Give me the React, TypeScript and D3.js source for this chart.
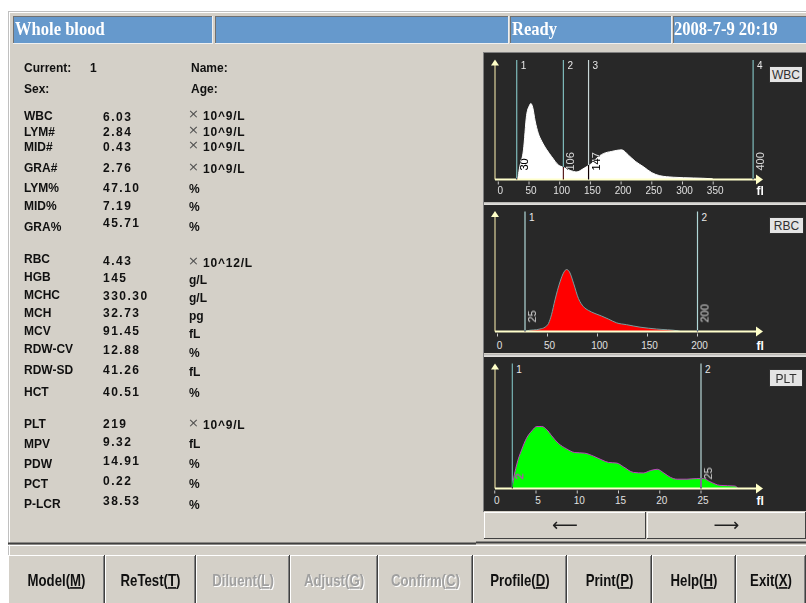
import React from "react";
import * as d3 from "d3";

// ---------------- data ----------------
const headerTexts = ["Whole blood", "", "Ready", "2008-7-9 20:19"];

const patientLeftLabels = ["Current:", "Sex:"];
const patientLeftValues = ["1", ""];
const patientRightLabels = ["Name:", "Age:"];

const wbcParams = ["WBC", "LYM#", "MID#", "GRA#", "LYM%", "MID%", "GRA%"];
const wbcValues = ["6.03", "2.84", "0.43", "2.76", "47.10", "7.19", "45.71"];
const wbcUnits = ["×10^9/L", "×10^9/L", "×10^9/L", "×10^9/L", "%", "%", "%"];

const rbcParams = ["RBC", "HGB", "MCHC", "MCH", "MCV", "RDW-CV", "RDW-SD", "HCT"];
const rbcValues = ["4.43", "145", "330.30", "32.73", "91.45", "12.88", "41.26", "40.51"];
const rbcUnits = ["×10^12/L", "g/L", "g/L", "pg", "fL", "%", "fL", "%"];

const pltParams = ["PLT", "MPV", "PDW", "PCT", "P-LCR"];
const pltValues = ["219", "9.32", "14.91", "0.22", "38.53"];
const pltUnits = ["×10^9/L", "fL", "%", "%", "%"];

// WBC histogram (fL, relative count)
const wbcFl = [30, 31, 35, 41, 46, 50.5, 53, 56, 60, 65, 71, 79, 87, 98, 106, 117, 128, 136, 144, 152, 160, 171, 185, 201, 212, 223, 236, 250, 263, 285, 318, 348, 350];
const wbcCount = [0, 1, 17, 39, 84, 97, 100, 95, 77, 61, 50, 39, 30, 19, 16, 12, 10, 13, 17, 21, 28, 34, 37, 39, 32, 24, 17, 9, 5, 3, 2, 1, 0];
const wbcTicks = [0, 50, 100, 150, 200, 250, 300, 350];
const wbcMarkerPos = [30, 106, 147, 415];
const wbcMarkerText = ["30", "106", "147", "400"];

// RBC histogram
const rbcFl = [27, 29, 42.5, 47.5, 51, 54, 57.5, 62.5, 66.5, 69, 72, 76, 81, 86, 91, 97.5, 104, 111, 119, 129, 142.5, 159, 181, 183];
const rbcCount = [0, 1, 4, 7, 13, 27, 51, 80, 96, 100, 96, 78, 53, 40, 34, 29, 25, 20, 14, 11, 7, 4, 1, 0];
const rbcTicks = [0, 50, 100, 150, 200];
const rbcMarkerPos = [27.5, 200];
const rbcMarkerText = ["25", "200"];

// PLT histogram
const pltFl = [2.1, 2.25, 2.65, 3.25, 3.85, 4.5, 5.1, 5.7, 6.3, 6.9, 7.7, 8.7, 9.7, 10.9, 12, 13, 13.8, 14.8, 15.6, 16.8, 18, 18.9, 19.7, 20.5, 21.3, 22.1, 23.3, 24.5, 25.3, 26.1, 27.3, 29.1, 29.5];
const pltCount = [0, 13, 38, 62, 81, 93, 100, 100, 95, 85, 73, 64, 58, 57, 52, 46, 42, 41, 35, 26, 25, 29, 31, 25, 18, 15, 15, 16, 16, 11, 5, 4, 0];
const pltTicks = [0, 5, 10, 15, 20, 25];
const pltMarkerPos = [2.13, 25];
const pltMarkerText = ["2", "25"];

const buttonNames = ["Model", "ReTest", "Diluent", "Adjust", "Confirm", "Profile", "Print", "Help", "Exit"];
const buttonKeys = ["M", "T", "L", "G", "C", "D", "P", "H", "X"];
const buttonEnabled = [true, true, false, false, false, true, true, true, true];

// ---------------- layout ----------------
const BG = "#d4d0c8";
const headerEdges = [[13, 212], [215, 508], [510, 671], [673, 806]];
const headerTextX = [15, 0, 512, 674];
const buttonEdges = [8, 105, 196, 290, 378, 473, 567, 652, 736, 806];

const wbcRowY = { label: [120, 135.5, 151, 172, 192, 209.5, 230.5], value: [120.5, 136, 151, 172, 191.5, 209.5, 226.5], unit: [119, 134.5, 150, 171.5, 193, 211, 231] };
const rbcRowY = { label: [263, 281, 299, 317, 335, 353, 374, 396], value: [265, 282, 300, 317, 335, 354, 374, 396], unit: [266, 284, 302, 320, 338, 357, 376, 397] };
const pltRowY = { label: [428, 448, 468, 488, 508], value: [428, 446, 465, 485, 505], unit: [428, 448, 468, 488, 509] };

type PanelCfg = {
  name: string;
  top: number; bottom: number;
  axisY: number; arrowTop: number; lineTop: number;
  domain: [number, number]; range: [number, number];
  peakH: number; tickLabelY: number;
  fl: number[]; count: number[]; ticks: number[];
  markerPos: number[]; markerText: string[]; markerColors: string[];
  fill: string; stroke: string;
  btn: [number, number, number, number];
};

const panels: PanelCfg[] = [
  {
    name: "WBC", top: 53, bottom: 202, axisY: 179.5, arrowTop: 59.5, lineTop: 60,
    domain: [0, 400], range: [498.3, 743.9], peakH: 76, tickLabelY: 194,
    fl: wbcFl, count: wbcCount, ticks: wbcTicks,
    markerPos: wbcMarkerPos, markerText: wbcMarkerText,
    markerColors: ["#a8e4e4", "#a8e4e4", "#f0ffff", "#a8e4e4"],
    fill: "#ffffff", stroke: "#ffffff", btn: [769, 66, 33, 16],
  },
  {
    name: "RBC", top: 205, bottom: 353, axisY: 331.5, arrowTop: 211, lineTop: 211.5,
    domain: [0, 200], range: [497.5, 697.5], peakH: 62, tickLabelY: 348.5,
    fl: rbcFl, count: rbcCount, ticks: rbcTicks,
    markerPos: rbcMarkerPos, markerText: rbcMarkerText,
    markerColors: ["#d8ffff", "#d8ffff"],
    fill: "#ff0000", stroke: "#7a9c9c", btn: [769, 217, 34, 16],
  },
  {
    name: "PLT", top: 357, bottom: 511, axisY: 488.5, arrowTop: 363.5, lineTop: 363.5,
    domain: [0, 30], range: [494.75, 742.25], peakH: 62, tickLabelY: 504,
    fl: pltFl, count: pltCount, ticks: pltTicks,
    markerPos: pltMarkerPos, markerText: pltMarkerText,
    markerColors: ["#a0dcdc", "#e0ffff"],
    fill: "#00ff00", stroke: "#c040c0", btn: [769, 369, 33, 17],
  },
];

const AXIS_X = 495;
const AXIS_END = 763;

function Panel({ c }: { c: PanelCfg }) {
  const x = d3.scaleLinear().domain(c.domain).range(c.range);
  const y = d3.scaleLinear().domain([0, 100]).range([c.axisY, c.axisY - c.peakH]);
  const pts: [number, number][] = c.fl.map((f, i) => [f, c.count[i]]);
  const area = d3.area<[number, number]>().x((d) => x(d[0])).y0(c.axisY).y1((d) => y(d[1])).curve(d3.curveMonotoneX);
  const line = d3.line<[number, number]>().x((d) => x(d[0])).y((d) => y(d[1])).curve(d3.curveMonotoneX);
  const [bx, by, bw, bh] = c.btn;
  return (
    <g>
      <rect x={484} y={c.top} width={322} height={c.bottom - c.top} fill="#282828" />
      <path d={area(pts) || ""} fill={c.fill} />
      <path d={line(pts) || ""} fill="none" stroke={c.stroke} strokeWidth={1} />
      <line x1={AXIS_X} x2={AXIS_X} y1={c.axisY} y2={c.arrowTop + 5} stroke="#b8b084" strokeWidth={1.5} />
      <path d={`M${AXIS_X},${c.arrowTop} L${AXIS_X - 4},${c.arrowTop + 6} L${AXIS_X + 4},${c.arrowTop + 6} Z`} fill="#ffffc8" />
      <line x1={AXIS_X} x2={AXIS_END - 6} y1={c.axisY} y2={c.axisY} stroke="#ffffcc" strokeWidth={2} />
      <path d={`M${AXIS_END},${c.axisY} L${AXIS_END - 7},${c.axisY - 5} L${AXIS_END - 7},${c.axisY + 5} Z`} fill="#ffffc8" />
      {c.ticks.map((t) => (
        <g key={t}>
          <line x1={x(t)} x2={x(t)} y1={c.axisY + 2} y2={c.axisY + 5} stroke="#c8c8c8" strokeWidth={1} />
          <text x={x(t) + 2} y={c.tickLabelY} fontSize={10} fill="#e0e0e0" textAnchor="middle">{t}</text>
        </g>
      ))}
      <text x={756.5} y={c.tickLabelY + 1} fontSize={12} fontWeight="bold" fill="#ffffff">fl</text>
      {c.markerPos.map((p, i) => (
        <g key={i}>
          <line x1={x(p)} x2={x(p)} y1={c.lineTop} y2={c.axisY} stroke={c.markerColors[i]} strokeWidth={1.2}
            style={{ mixBlendMode: "difference" }} />
          <text x={x(p) + 4} y={c.lineTop + 9} fontSize={10} fill="#e8e8e8">{i + 1}</text>
          <text transform={`translate(${x(p) + 11},${c.axisY - 9}) rotate(-90)`} fontSize={11} fill="#ffffff"
            style={{ mixBlendMode: "difference" }}>{c.markerText[i]}</text>
        </g>
      ))}
      <rect x={bx + 0.5} y={by + 0.5} width={bw} height={bh} fill="#e4e4e4" stroke="#303030" strokeWidth={1} />
      <text x={bx + bw / 2 + 0.5} y={by + bh - 3.5} fontSize={12} fill="#303030" textAnchor="middle">{c.name}</text>
    </g>
  );
}

function ParamBlock({ params, values, units, rows }: { params: string[]; values: string[]; units: string[]; rows: { label: number[]; value: number[]; unit: number[] } }) {
  return (
    <g fontSize={12} fontWeight="bold" fill="#101010">
      {params.map((p, i) => {
        const u = units[i];
        const hasX = u.startsWith("×");
        return (
          <g key={p}>
            <text x={24} y={rows.label[i]}>{p}</text>
            <text x={103} y={rows.value[i]} letterSpacing={1.5}>{values[i]}</text>
            {hasX ? (
              <>
                <text x={188} y={rows.unit[i] - 1} fontWeight="normal" fontSize={13} fill="#505050"
                  fontFamily="'DejaVu Sans',sans-serif">×</text>
                <text x={203} y={rows.unit[i] + 1} letterSpacing={0.8}>{u.slice(1)}</text>
              </>
            ) : (
              <text x={189} y={rows.unit[i]}>{u}</text>
            )}
          </g>
        );
      })}
    </g>
  );
}

function Button({ i }: { i: number }) {
  const x0 = buttonEdges[i];
  const x1 = buttonEdges[i + 1];
  const cx = (x0 + x1) / 2;
  const en = buttonEnabled[i];
  const label = (dx: number, dy: number, fill: string) => (
    <g transform={`translate(${cx + dx},${586 + dy}) scale(0.8,1)`}>
      <text x={0} y={0} textAnchor="middle" fontSize={16.5} fontWeight="bold" fill={fill}>
        {buttonNames[i]}(<tspan style={{ textDecoration: "underline" }}>{buttonKeys[i]}</tspan>)
      </text>
    </g>
  );
  return (
    <g>
      <rect x={x0} y={555} width={x1 - x0} height={48} fill={BG} />
      <line x1={x0} x2={x1} y1={555.5} y2={555.5} stroke="#ffffff" />
      <line x1={x0 + 0.5} x2={x0 + 0.5} y1={555} y2={603} stroke="#ffffff" />
      <line x1={x1 - 1.5} x2={x1 - 1.5} y1={556} y2={603} stroke="#808080" />
      <line x1={x1 - 0.5} x2={x1 - 0.5} y1={555} y2={603} stroke="#404040" />
      {en ? label(0, 0, "#101010") : (<>{label(1, 1, "#ffffff")}{label(0, 0, "#a0a0a0")}</>)}
    </g>
  );
}

function NavButton({ x0, x1, glyph }: { x0: number; x1: number; glyph: string }) {
  return (
    <g>
      <rect x={x0} y={512} width={x1 - x0} height={27} fill={BG} />
      <line x1={x0} x2={x1} y1={512.5} y2={512.5} stroke="#ffffff" />
      <line x1={x0 + 0.5} x2={x0 + 0.5} y1={512} y2={539} stroke="#ffffff" />
      <line x1={x0} x2={x1} y1={538.5} y2={538.5} stroke="#404040" />
      <line x1={x1 - 0.5} x2={x1 - 0.5} y1={512} y2={539} stroke="#404040" />
      <text x={(x0 + x1) / 2} y={531} textAnchor="middle" fontSize={18} fill="#202020" fontFamily="'DejaVu Sans',sans-serif">{glyph}</text>
    </g>
  );
}

export default function App() {
  return (
    <svg width={806} height={603} style={{ position: "absolute", left: 0, top: 0, display: "block" }}
      fontFamily="'Liberation Sans', Arial, sans-serif">
      <rect x={0} y={0} width={806} height={603} fill="#ffffff" />
      <rect x={8} y={11} width={798} height={592} fill={BG} />
      <line x1={8} x2={806} y1={11.5} y2={11.5} stroke="#c0c0c0" />
      <line x1={8.5} x2={8.5} y1={11} y2={603} stroke="#c0c0c0" />
      <line x1={9} x2={806} y1={12.5} y2={12.5} stroke="#ffffff" />
      <line x1={9.5} x2={9.5} y1={12} y2={603} stroke="#ffffff" />

      {headerEdges.map(([a, b], i) => (
        <g key={i}>
          <rect x={a} y={16} width={b - a} height={27} fill="#6699cc" />
          <line x1={a} x2={b} y1={16.5} y2={16.5} stroke="#707070" strokeWidth={1} />
          <line x1={a + 0.5} x2={a + 0.5} y1={16} y2={43} stroke="#707070" strokeWidth={1} />
          <line x1={a} x2={b} y1={43.5} y2={43.5} stroke="#f0f0f0" strokeWidth={1} />
          <line x1={b + 0.5} x2={b + 0.5} y1={16} y2={44} stroke="#f0f0f0" strokeWidth={1} />
          {headerTexts[i] && (
            <g transform={`translate(${headerTextX[i]},35) scale(0.92,1.1)`}>
              <text x={0} y={0} fontFamily="'Liberation Serif','Times New Roman',serif" fontWeight="bold"
                fontSize={18} fill="#ffffff">{headerTexts[i]}</text>
            </g>
          )}
        </g>
      ))}

      <g fontSize={12} fontWeight="bold" fill="#101010">
        {patientLeftLabels.map((l, i) => (
          <text key={l} x={24} y={72 + i * 20.5}>{l}</text>
        ))}
        {patientLeftValues.map((v, i) => (
          <text key={"v" + i} x={90} y={72 + i * 20.5}>{v}</text>
        ))}
        {patientRightLabels.map((l, i) => (
          <text key={l} x={191} y={72 + i * 20.5}>{l}</text>
        ))}
      </g>
      <ParamBlock params={wbcParams} values={wbcValues} units={wbcUnits} rows={wbcRowY} />
      <ParamBlock params={rbcParams} values={rbcValues} units={rbcUnits} rows={rbcRowY} />
      <ParamBlock params={pltParams} values={pltValues} units={pltUnits} rows={pltRowY} />

      <rect x={482} y={51} width={324} height={462} fill={BG} />
      <line x1={483.5} x2={483.5} y1={52} y2={512} stroke="#808080" />
      <line x1={483} x2={806} y1={52.5} y2={52.5} stroke="#808080" />
      {panels.map((p) => <Panel key={p.name} c={p} />)}
      <line x1={484} x2={806} y1={203} y2={203} stroke="#a0a0a0" />
      <line x1={484} x2={806} y1={204} y2={204} stroke="#f0f0f0" />
      <line x1={484} x2={806} y1={355} y2={355} stroke="#a0a0a0" />
      <line x1={484} x2={806} y1={356} y2={356} stroke="#f0f0f0" />
      <NavButton x0={484} x1={646} glyph="⟵" />
      <NavButton x0={647} x1={806} glyph="⟶" />

      <line x1={8} x2={476} y1={543.5} y2={543.5} stroke="#404040" strokeWidth={2} />
      <line x1={476} x2={806} y1={542.5} y2={542.5} stroke="#404040" strokeWidth={2} />
      <line x1={8} x2={806} y1={545.5} y2={545.5} stroke="#ffffff" />

      {buttonNames.map((_, i) => <Button key={i} i={i} />)}
    </svg>
  );
}
